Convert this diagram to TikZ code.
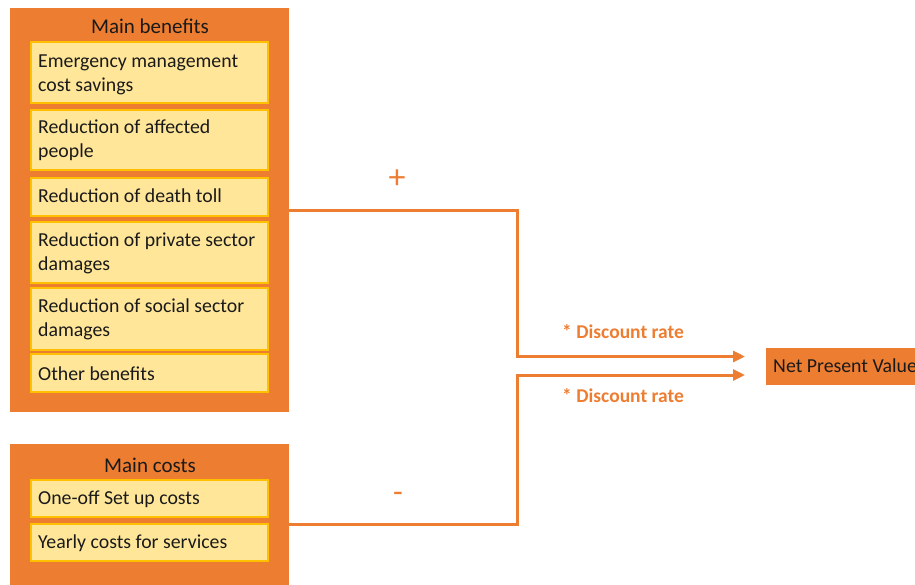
\documentclass[tikz,border=0pt]{standalone}
\usepackage{fontspec}
\setmainfont{Carlito}
\usetikzlibrary{arrows.meta}
\definecolor{accent}{HTML}{ED7D31}
\definecolor{itemfill}{HTML}{FFE699}
\definecolor{itemline}{HTML}{FFC000}
\definecolor{ink}{HTML}{1A1A1A}
\begin{document}
\begin{tikzpicture}[x=1pt,y=-1pt,
  panel/.style={fill=accent,draw=none},
  item/.style={fill=itemfill,draw=itemline,line width=1.2pt},
  itemtext/.style={anchor=base west,inner sep=0pt,align=left,text=ink,
    font=\fontsize{19.8}{24}\selectfont},
  title/.style={text=ink,font=\fontsize{21}{24}\selectfont,inner sep=0pt,anchor=base},
  flow/.style={draw=accent,line width=3pt},
  rate/.style={text=accent,font=\bfseries\fontsize{19.5}{22}\selectfont,inner sep=0pt,anchor=base west},
  sign/.style={text=accent,inner sep=0pt}]
\useasboundingbox (0,0) rectangle (915,584);
\clip (0,0) rectangle (915,584);

% benefits panel (two-line texts are placed by the baseline of their last line)
\path[panel] (10,8) rectangle (289,412);
\node[title] (bt) at (150,33) {Main benefits};
\path[item] (31,42) rectangle (268,103);
\node[itemtext] (b1) at (38,91) {Emergency management\\cost savings};
\path[item] (31,110) rectangle (268,170);
\node[itemtext] (b2) at (38,157) {Reduction of affected\\people};
\path[item] (31,178) rectangle (268,216);
\node[itemtext] (b3) at (38,202) {Reduction of death toll};
\path[item] (31,222) rectangle (268,283);
\node[itemtext] (b4) at (38,270) {Reduction of private sector\\damages};
\path[item] (31,288) rectangle (268,350);
\node[itemtext] (b5) at (38,336) {Reduction of social sector\\damages};
\path[item] (31,354) rectangle (268,392);
\node[itemtext] (b6) at (38,380) {Other benefits};

% costs panel
\path[panel] (10,444) rectangle (289,600);
\node[title] (ct) at (150,472) {Main costs};
\path[item] (31,480) rectangle (268,517);
\node[itemtext] (c1) at (38,504) {One-off Set up costs};
\path[item] (31,524) rectangle (268,561);
\node[itemtext] (c2) at (38,548) {Yearly costs for services};

% result
\node[fill=accent,anchor=north west,minimum width=160pt,minimum height=37pt,
  inner sep=0pt] (npv) at (766,348) {};
\node[anchor=base west,inner sep=0pt,text=ink,font=\fontsize{19.8}{24}\selectfont]
  (npvt) at (773,372) {Net Present Value};

% connectors
\coordinate (bEnd) at (289,210.5);
\coordinate (cEnd) at (289,524);
\coordinate (upTip) at (745,356.5);
\coordinate (loTip) at (745,375);
\draw[flow,-{Triangle[length=12pt,width=11pt]}] (bEnd) -| (517,356.5) -- (upTip);
\draw[flow,-{Triangle[length=12pt,width=11pt]}] (cEnd) -| (517,375) -- (loTip);

\node[sign,font=\fontsize{34}{36}\selectfont] (plus) at (397,179) {+};
\node[sign,font=\fontsize{32}{36}\selectfont] (minus) at (398,497) {-};
\node[rate] (r1) at (562,338) {* Discount rate};
\node[rate] (r2) at (562,402) {* Discount rate};
\end{tikzpicture}
\end{document}
